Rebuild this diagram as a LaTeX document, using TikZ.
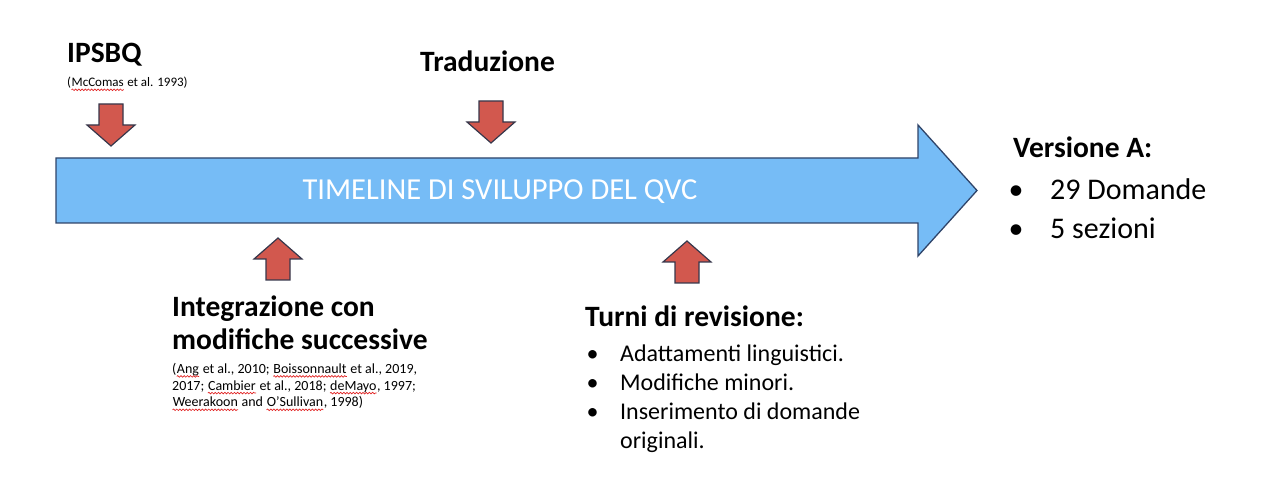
\documentclass[tikz,border=0pt]{standalone}
\usepackage{fontspec}
\setmainfont{Carlito}
\usetikzlibrary{decorations.pathmorphing}
\definecolor{tlblue}{RGB}{118,188,246}
\definecolor{tlborder}{RGB}{47,68,105}
\definecolor{arrred}{RGB}{210,88,78}
\definecolor{arrborder}{RGB}{55,55,75}
\definecolor{spellred}{RGB}{225,35,35}
\newcommand{\typo}[1]{\tikz[baseline=(w.base)]{\node[inner sep=0pt, anchor=base west] (w) at (0,0) {#1};
	\draw[spellred, line width=0.7pt, decorate, decoration={snake, amplitude=0.8pt, segment length=3.2pt}] ([yshift=-2.8pt]w.base west) -- ([yshift=-2.8pt]w.base east);}}
\newcommand{\bul}[1]{\makebox[#1][l]{•}}
\begin{document}
\begin{tikzpicture}[x=1pt, y=-1pt,
	redarrow/.style={fill=arrred, draw=arrborder, line width=1.2pt},
	lbl/.style={inner sep=0pt, anchor=base west, align=left},
	head/.style={lbl, font=\bfseries\fontsize{29.5}{33.3}\selectfont}]
\useasboundingbox (0,0) rectangle (1262,494);
% timeline
\draw[fill=tlblue, draw=tlborder, line width=1.3pt] (56,158) -- (918,158) -- (918,125) -- (977,190.5) -- (918,256) -- (918,223) -- (56,223) -- cycle;
\node[inner sep=0pt, anchor=base, text=white, font=\fontsize{30.5}{36}\selectfont] (timeline) at (500,200) {TIMELINE DI SVILUPPO DEL QVC};
% red arrows
\foreach \x/\y/\d in {111/146/1, 491/143/1, 278/238/-1, 687/241/-1}
	\draw[redarrow] (\x,\y) -- ++(-24,-21*\d) -- ++(12,0) -- ++(0,-21*\d) -- ++(24,0) -- ++(0,21*\d) -- ++(12,0) -- cycle;
% texts (multi-line nodes sit on their last line)
\node[head] (ipsbq) at (67,63) {IPSBQ};
\node[lbl, font=\fontsize{13}{16}\selectfont] (mccomas) at (67,87) {(\typo{McComas} et al. 1993)};
\node[head] (traduzione) at (420,72) {Traduzione};
\node[head] (integrazione) at (172,350) {Integrazione con\\ modifiche successive};
\node[lbl, font=\fontsize{14}{16.7}\selectfont] (refs) at (172,407) {(\typo{Ang} et al., 2010; \typo{Boissonnault} et al., 2019,\\ 2017; \typo{Cambier} et al., 2018; \typo{deMayo}, 1997;\\ \typo{Weerakoon} and \typo{O’Sullivan}, 1998)};
\node[head] (turni) at (585,327) {Turni di revisione:};
\node[lbl, font=\fontsize{24}{28.7}\selectfont] (modifiche) at (586.5,448) {\bul{33.5pt}Adattamenti linguistici.\\ \bul{33.5pt}Modifiche minori.\\ \bul{33.5pt}Inserimento di domande\\ \hspace*{33.5pt}originali.};
\node[head] (versione) at (1013,158) {Versione A:};
\node[lbl, font=\fontsize{30}{39.5}\selectfont] (domande) at (1008.5,239) {\bul{41.5pt}29 Domande\\ \bul{41.5pt}5 sezioni};
\end{tikzpicture}
\end{document}
